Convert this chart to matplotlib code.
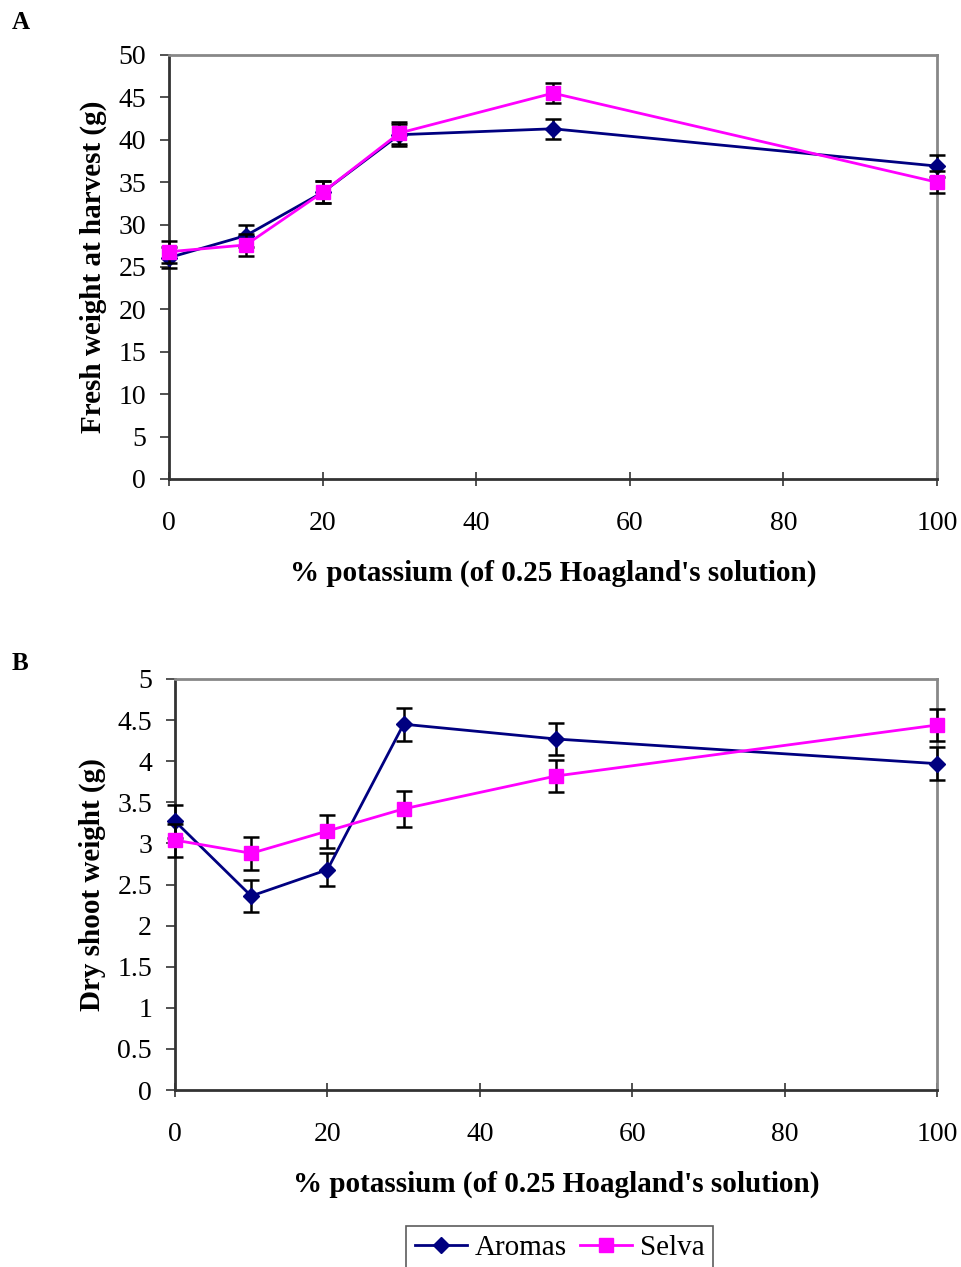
import numpy as np
import matplotlib
matplotlib.use("Agg")
import matplotlib.pyplot as plt
from matplotlib.lines import Line2D

plt.rcParams['font.family'] = ['Liberation Serif', 'DejaVu Serif']

potassium = [0, 10, 20, 30, 50, 100]

# panel A: fresh weight at harvest (g)
fresh_aromas = [26.1, 28.7, 33.8, 40.6, 41.3, 36.9]
fresh_aromas_err = [1.2, 1.3, 1.3, 1.3, 1.2, 1.3]
fresh_selva = [26.8, 27.6, 33.8, 40.8, 45.5, 35.0]
fresh_selva_err = [1.3, 1.3, 1.3, 1.3, 1.2, 1.3]

# panel B: dry shoot weight (g)
dry_aromas = [3.27, 2.36, 2.68, 4.45, 4.27, 3.97]
dry_aromas_err = [0.2, 0.2, 0.2, 0.2, 0.2, 0.2]
dry_selva = [3.04, 2.88, 3.15, 3.42, 3.82, 4.44]
dry_selva_err = [0.2, 0.2, 0.2, 0.22, 0.2, 0.2]

xlabel = "% potassium (of 0.25 Hoagland's solution)"
navy = '#000080'
magenta = '#ff00ff'

fig = plt.figure(figsize=(9.62, 12.67), dpi=100)
axA = fig.add_axes([169/962, 1-479/1267, (937-169)/962, (479-55)/1267])
axB = fig.add_axes([175/962, 1-1090/1267, (937-175)/962, (1090-679)/1267])


def draw_panel(ax, ya, ea, ys, es, ylim, ystep, ylabel, letter, ltop):
    ax.errorbar(potassium, ya, yerr=ea, color=navy, marker='D', markersize=8,
                lw=2, ecolor='black', elinewidth=1.8, capsize=6, capthick=1.8,
                zorder=3, clip_on=False)
    ax.errorbar(potassium, ys, yerr=es, color=magenta, marker='s', markersize=10,
                lw=2, ecolor='black', elinewidth=1.8, capsize=6, capthick=1.8,
                zorder=4, clip_on=False)
    ax.set_xlim(0, 100)
    ax.set_ylim(*ylim)
    ax.set_xticks(range(0, 101, 20))
    yt = np.arange(ylim[0], ylim[1] + ystep / 2, ystep)
    ax.set_yticks(yt)
    ax.set_yticklabels([f'{v:g}' for v in yt])
    for s in ['top', 'right']:
        ax.spines[s].set_color('#888888')
        ax.spines[s].set_linewidth(2)
    for s in ['left', 'bottom']:
        ax.spines[s].set_color('#333333')
        ax.spines[s].set_linewidth(2)
    ax.tick_params(axis='y', direction='out', length=6.5, width=1.2, labelsize=20,
                   pad=10, color='#333333')
    ax.tick_params(axis='x', direction='inout', length=10, width=1.2, labelsize=20,
                   pad=18, color='#333333')
    ax.set_xlabel(xlabel, fontsize=21, fontweight='bold', labelpad=17)
    ax.set_ylabel(ylabel, fontsize=21, fontweight='bold', labelpad=8)
    fig.text(12/962, 1 - ltop/1267, letter, fontsize=18,
             fontweight='bold', ha='left', va='top')


draw_panel(axA, fresh_aromas, fresh_aromas_err, fresh_selva, fresh_selva_err,
           (0, 50), 5, 'Fresh weight at harvest (g)', 'A', 11)
draw_panel(axB, dry_aromas, dry_aromas_err, dry_selva, dry_selva_err,
           (0, 5), 0.5, 'Dry shoot weight (g)', 'B', 652)

handles = [Line2D([], [], color=navy, marker='D', markersize=8, lw=2),
           Line2D([], [], color=magenta, marker='s', markersize=10, lw=2)]
leg = fig.legend(handles, ['Aromas', 'Selva'], loc='upper center',
                 bbox_to_anchor=(0.5816, 1-1226/1267), ncol=2, fontsize=21,
                 frameon=True, fancybox=False, edgecolor='#333333',
                 handlelength=1.8, columnspacing=0.45, handletextpad=0.25,
                 borderpad=0.3, borderaxespad=0)
leg.get_frame().set_linewidth(1.2)

fig.savefig('out.png', dpi=100)
